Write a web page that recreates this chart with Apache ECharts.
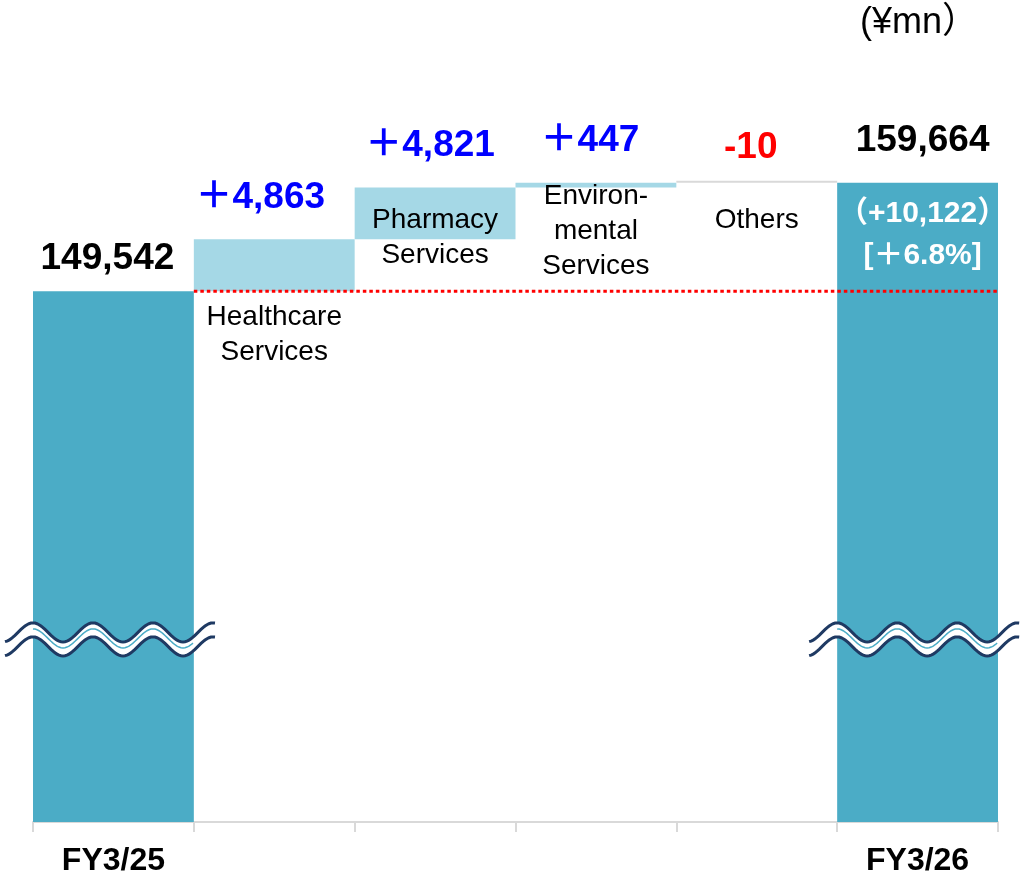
<!DOCTYPE html>
<html>
<head>
<meta charset="utf-8">
<script src="https://cdn.jsdelivr.net/npm/echarts@6/dist/echarts.min.js"></script>
<style>
  html, body { margin: 0; padding: 0; background: #fff; }
  #chart { width: 1025px; height: 880px; }
</style>
</head>
<body>
<div id="chart"></div>
<script>
// data
const categories = ["FY3/25", "Healthcare\nServices", "Pharmacy\nServices", "Environ-\nmental\nServices", "Others", "FY3/26"];
const startValue = 149542;
const endValue = 159664;
const deltas = [4863, 4821, 447, -10];
const deltaLabels = ["＋4,863", "＋4,821", "＋447", "-10"];
const changeLabel = "（+10,122）";
const changePctLabel = "[＋6.8%]";
const unitLabel = "(¥mn）";
const breakValue = 117000;

// look
const FONT = "'Liberation Sans', 'Noto Sans CJK JP', Arial, sans-serif";
const END_COLOR = "#4bacc6";
const DELTA_COLOR = "#a5d8e6";
const OTHER_COLOR = "#d9d9d9";
const NAVY = "#1f3a63";
const valueDistance = [14, 23, 23, 23, 15, 0];
const valueShift = [-6, -14, -5, -6, -6, 5];
const nameOffset = [0, 8, -36, -9, 20, 0];

// waterfall: invisible base + visible part
const base = ["-"];
const bars = [startValue];
let running = startValue;
deltas.forEach((d) => {
  if (d >= 0) {
    base.push(running);
    bars.push(d);
    running += d;
  } else {
    running += d;
    base.push(running);
    bars.push(-d);
  }
});
base.push("-");
bars.push(endValue);

const fmt = (v) => v.toLocaleString("en-US");
const last = categories.length - 1;

const visibleData = bars.map((v, i) => {
  const isEnd = i === 0 || i === last;
  const d = deltas[i - 1];
  const item = {
    value: v,
    itemStyle: {
      color: isEnd ? END_COLOR : d < 0 ? OTHER_COLOR : DELTA_COLOR,
    },
    label: {
      show: true,
      position: "top",
      distance: valueDistance[i],
      offset: [valueShift[i], 0],
      fontFamily: FONT,
      fontWeight: "bold",
      fontSize: 37,
      color: isEnd ? "#000" : d < 0 ? "#ff0000" : "#0000ff",
      formatter: isEnd ? fmt(v) : deltaLabels[i - 1],
    },
  };
  if (i === last) {
    item.label = {
      show: true,
      position: "insideTop",
      distance: 0,
      offset: [valueShift[i], -94],
      fontFamily: FONT,
      formatter: `{v|${fmt(v)}}\n{w|${changeLabel}}\n{w|${changePctLabel}}`,
      rich: {
        v: { fontSize: 37, fontWeight: "bold", color: "#000", lineHeight: 104, fontFamily: FONT },
        w: { fontSize: 30, fontWeight: "bold", color: "#fff", lineHeight: 42, fontFamily: FONT },
      },
    };
  }
  return item;
});

const baseData = base.map((v, i) => ({
  value: v,
  label: { offset: [0, nameOffset[i]] },
}));

const chart = echarts.init(document.getElementById("chart"));

chart.setOption({
  animation: false,
  title: {
    text: unitLabel,
    right: 42,
    top: 0,
    textStyle: { fontFamily: FONT, fontSize: 36, fontWeight: "normal", color: "#000" },
  },
  grid: { left: 33, right: 27, top: 40, bottom: 58 },
  xAxis: [
    {
      type: "category",
      data: categories,
      axisLine: { lineStyle: { color: "#d9d9d9", width: 2 } },
      axisTick: { show: true, interval: 0, length: 10, lineStyle: { color: "#d9d9d9", width: 2 } },
      axisLabel: {
        interval: 0,
        margin: 23,
        fontFamily: FONT,
        fontSize: 32,
        fontWeight: "bold",
        color: "#000",
        formatter: (v, i) => (i === 0 || i === last ? v : ""),
      },
    },
    { type: "value", min: 0, max: categories.length, show: false },
  ],
  yAxis: { type: "value", min: 100000, max: 173000, show: false },
  series: [
    {
      type: "bar",
      stack: "wf",
      barCategoryGap: "0%",
      itemStyle: { color: "transparent" },
      label: {
        show: true,
        position: "insideTop",
        distance: 0,
        fontFamily: FONT,
        fontSize: 28,
        lineHeight: 35,
        color: "#000",
        formatter: (p) => categories[p.dataIndex],
      },
      emphasis: { disabled: true },
      data: baseData,
      z: 4,
    },
    {
      type: "bar",
      stack: "wf",
      barCategoryGap: "0%",
      barMinHeight: 2,
      emphasis: { disabled: true },
      data: visibleData,
      z: 3,
    },
    {
      type: "line",
      xAxisIndex: 1,
      symbol: "none",
      lineStyle: { color: "#ff0000", width: 3, type: [3.5, 3] },
      data: [[1, startValue], [categories.length, startValue]],
      z: 6,
    },
    {
      type: "custom",
      z: 5,
      data: [[0, breakValue], [last, breakValue]],
      renderItem: (params, api) => {
        const c = api.coord([api.value(0), api.value(1)]);
        const w = api.size([1, 0])[0];
        const left = c[0] - w / 2 - 28;
        const right = c[0] + w / 2 + 22;
        const wave = (dy, x0, x1) => {
          const pts = [];
          for (let x = x0; x <= x1 + 0.01; x += 2) {
            pts.push([x, c[1] + dy - 9.5 * Math.cos((2 * Math.PI * (x - left - 28)) / 60)]);
          }
          return pts;
        };
        const upper = wave(-7.5, left, right);
        const lower = wave(6.5, left, right);
        const mid = wave(-1.5, c[0] - w / 2, c[0] + w / 2);
        return {
          type: "group",
          children: [
            { type: "polygon", shape: { points: upper.concat(lower.slice().reverse()) }, style: { fill: "#fff" } },
            { type: "polyline", shape: { points: mid }, style: { stroke: END_COLOR, lineWidth: 1.5, fill: null } },
            { type: "polyline", shape: { points: upper }, style: { stroke: NAVY, lineWidth: 3, fill: null } },
            { type: "polyline", shape: { points: lower }, style: { stroke: NAVY, lineWidth: 3, fill: null } },
          ],
        };
      },
    },
  ],
});
</script>
</body>
</html>
